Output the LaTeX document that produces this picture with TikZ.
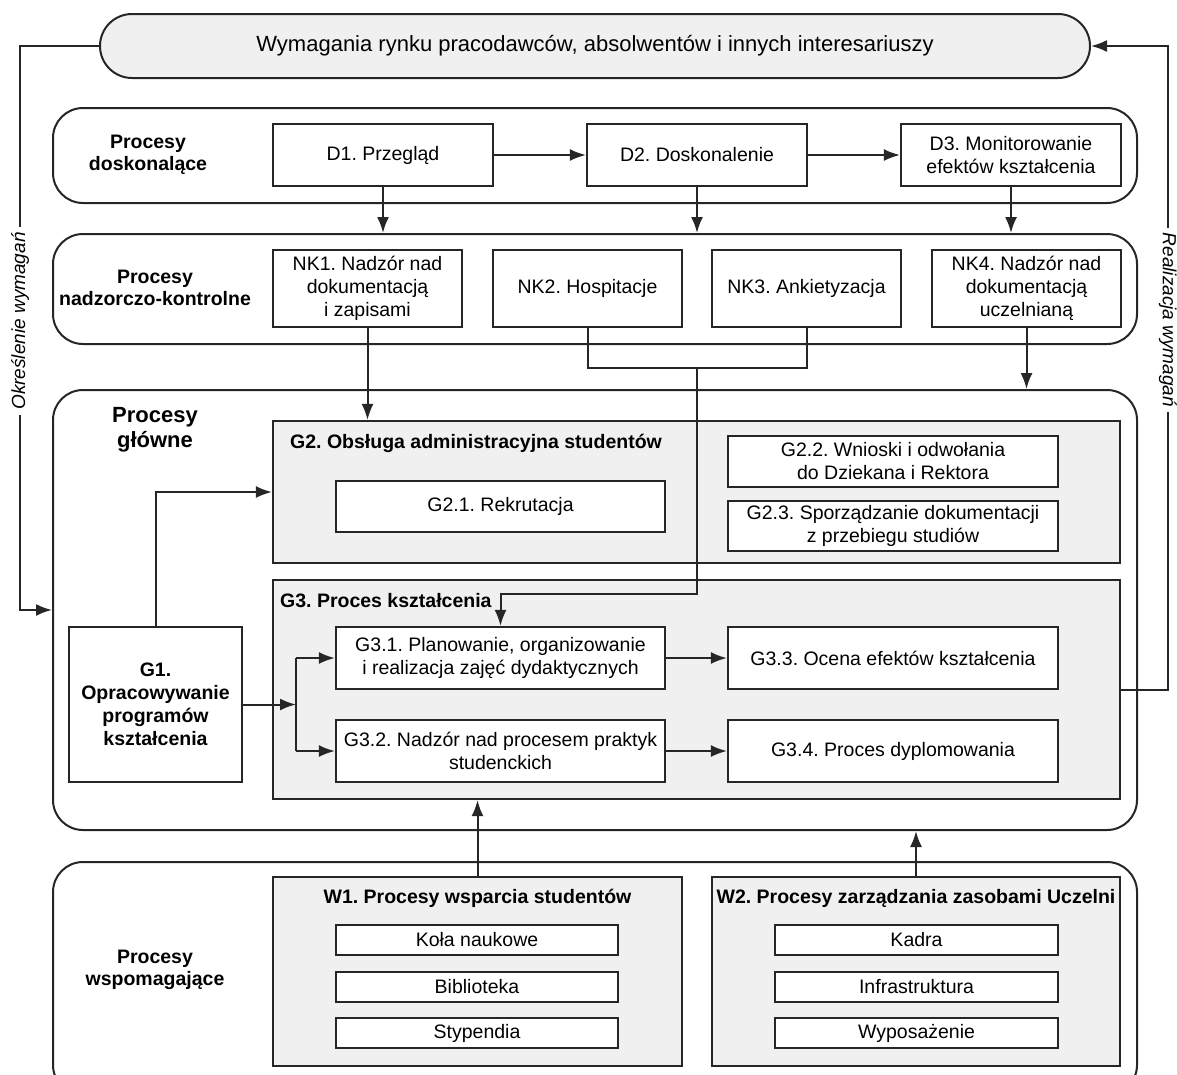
\documentclass[tikz,border=0pt]{standalone}
\usepackage{fontspec}
\setmainfont{Liberation Sans}
\usetikzlibrary{arrows.meta}
\definecolor{lg}{HTML}{F0F0F0}
\definecolor{lnc}{HTML}{262626}
\begin{document}
\frenchspacing
\begin{tikzpicture}[x=1pt,y=-1pt,
 every node/.style={font=\fontsize{19.5}{23}\selectfont, text=black, align=center, inner sep=0pt},
 sz/.style 2 args={minimum width=#1pt, minimum height=#2pt},
 box/.style={draw=lnc, line width=2.2pt, fill=white},
 gbox/.style={draw=lnc, line width=2.2pt, fill=lg},
 rowbox/.style={draw=lnc, line width=2pt, rounded corners=30pt, fill=white},
 arr/.style={draw=lnc, line width=2pt, -{Latex[length=16pt,width=12pt]}},
 plain/.style={draw=lnc, line width=2pt},
 lbl/.style={font=\fontsize{19.5}{22}\selectfont\bfseries},
 side/.style={font=\fontsize{19}{22}\selectfont\itshape, fill=white, inner sep=5pt},
 ]
\useasboundingbox (0,0) rectangle (1177,1074);
\clip (0,0) rectangle (1177,1074);

% top pill
\node[draw=lnc, line width=2pt, fill=lg, rounded corners=32pt, sz={990}{64}, font=\fontsize{22}{25}\selectfont] (pill) at (595,46) {Wymagania rynku pracodawców, absolwentów i innych interesariuszy};

% row containers
\node[rowbox, sz={1084}{95}] (drow) at (595,155.5) {};
\node[rowbox, sz={1084}{110}] (nkrow) at (595,289) {};
\node[rowbox, sz={1084}{440}] (main) at (595,610) {};
\node[rowbox, sz={1084}{233}] (wrow) at (595,978.5) {};

% row labels
\node[lbl] (ld) at (148,155) {Procesy\\doskonalące};
\node[lbl] (lnk) at (155,288) {Procesy\\nadzorczo-kontrolne};
\node[font=\fontsize{22}{25}\selectfont\bfseries] (lg) at (155,430) {Procesy\\główne};
\node[lbl] (lw) at (155,970) {Procesy\\wspomagające};

% D row
\node[box, sz={220}{62}] (d1) at (383,155) {D1. Przegląd};
\node[box, sz={220}{62}] (d2) at (697,155) {D2. Doskonalenie};
\node[box, sz={220}{62}] (d3) at (1011,155) {D3. Monitorowanie\\efektów kształcenia};

% NK row
\node[box, sz={189}{77}] (nk1) at (367.5,288.5) {NK1. Nadzór nad\\dokumentacją\\i zapisami};
\node[box, sz={189}{77}] (nk2) at (587.5,288.5) {NK2. Hospitacje};
\node[box, sz={189}{77}] (nk3) at (806.5,288.5) {NK3. Ankietyzacja};
\node[box, sz={189}{77}] (nk4) at (1026.5,288.5) {NK4. Nadzór nad\\dokumentacją\\uczelnianą};

% G2
\node[gbox, sz={847}{142}] (g2) at (696.5,492) {};
\node[lbl, anchor=west] (g2t) at (290,443) {G2. Obsługa administracyjna studentów};
\node[box, sz={329}{51}] (g21) at (500.5,506.5) {G2.1. Rekrutacja};
\node[box, sz={330}{51}] (g22) at (893,461.5) {G2.2. Wnioski i odwołania\\do Dziekana i Rektora};
\node[box, sz={330}{50}] (g23) at (893,526) {G2.3. Sporządzanie dokumentacji\\z przebiegu studiów};

% G3
\node[gbox, sz={847}{219}] (g3) at (696.5,689.5) {};
\node[lbl, anchor=west] (g3t) at (280,601) {G3. Proces kształcenia};
\node[box, sz={329}{62}] (g31) at (500.5,658) {G3.1. Planowanie, organizowanie\\i realizacja zajęć dydaktycznych};
\node[box, sz={329}{62}] (g32) at (500.5,751) {G3.2. Nadzór nad procesem praktyk\\studenckich};
\node[box, sz={330}{62}] (g33) at (893,658) {G3.3. Ocena efektów kształcenia};
\node[box, sz={330}{62}] (g34) at (893,751) {G3.4. Proces dyplomowania};

% G1
\node[box, sz={173}{155}, font=\fontsize{19.5}{23}\selectfont\bfseries] (g1) at (155.5,704.5) {G1.\\Opracowywanie\\programów\\kształcenia};

% W row
\node[gbox, sz={409}{189}] (w1) at (477.5,971.5) {};
\node[lbl] (w1t) at (477.5,898) {W1. Procesy wsparcia studentów};
\node[box, sz={282}{30}] (w11) at (477,940) {Koła naukowe};
\node[box, sz={282}{30}] (w12) at (477,987) {Biblioteka};
\node[box, sz={282}{30}] (w13) at (477,1033) {Stypendia};
\node[gbox, sz={408}{189}] (w2) at (916,971.5) {};
\node[lbl] (w2t) at (916,898) {W2. Procesy zarządzania zasobami Uczelni};
\node[box, sz={283}{30}] (w21) at (916.5,940) {Kadra};
\node[box, sz={283}{30}] (w22) at (916.5,987) {Infrastruktura};
\node[box, sz={283}{30}] (w23) at (916.5,1033) {Wyposażenie};

% D arrows
\draw[arr] (d1) -- (d2);
\draw[arr] (d2) -- (d3);
\draw[arr] (d1.south) -- (d1.south |- nkrow.north);
\draw[arr] (d2.south) -- (d2.south |- nkrow.north);
\draw[arr] (d3.south) -- (d3.south |- nkrow.north);

% NK arrows
\draw[arr] (nk1.south) -- (nk1.south |- g2.north);
\coordinate (j1) at (697,368);
\coordinate (j2) at (697,594);
\draw[plain] (nk2.south) |- (j1) -| (nk3.south);
\draw[arr] (j1) -- (j2) -| (g31.north);
\draw[arr] (nk4.south) -- (nk4.south |- main.north);

% G arrows
\draw[arr] (g1.north) |- (g2.west);
\coordinate (sp) at (296,704.5);
\draw[arr] (g1.east) -- (sp);
\draw[plain] (sp |- g31.west) -- (sp |- g32.west);
\draw[arr] (sp |- g31.west) -- (g31.west);
\draw[arr] (sp |- g32.west) -- (g32.west);
\draw[arr] (g31) -- (g33);
\draw[arr] (g32) -- (g34);

% W arrows
\draw[arr] (w1.north) -- (w1.north |- g3.south);
\draw[arr] (w2.north) -- (w2.north |- main.south);

% side loops
\coordinate (L1) at (20,46);
\draw[arr] (pill.west) -- (L1) |- (main.west);
\node[side, rotate=90] (ol) at (20,321) {Określenie wymagań};
\coordinate (R1) at (1168,46);
\draw[arr] (g3.east) -| (R1) -- (pill.east);
\node[side, rotate=-90] (rl) at (1168,320) {Realizacja wymagań};
\end{tikzpicture}
\end{document}
